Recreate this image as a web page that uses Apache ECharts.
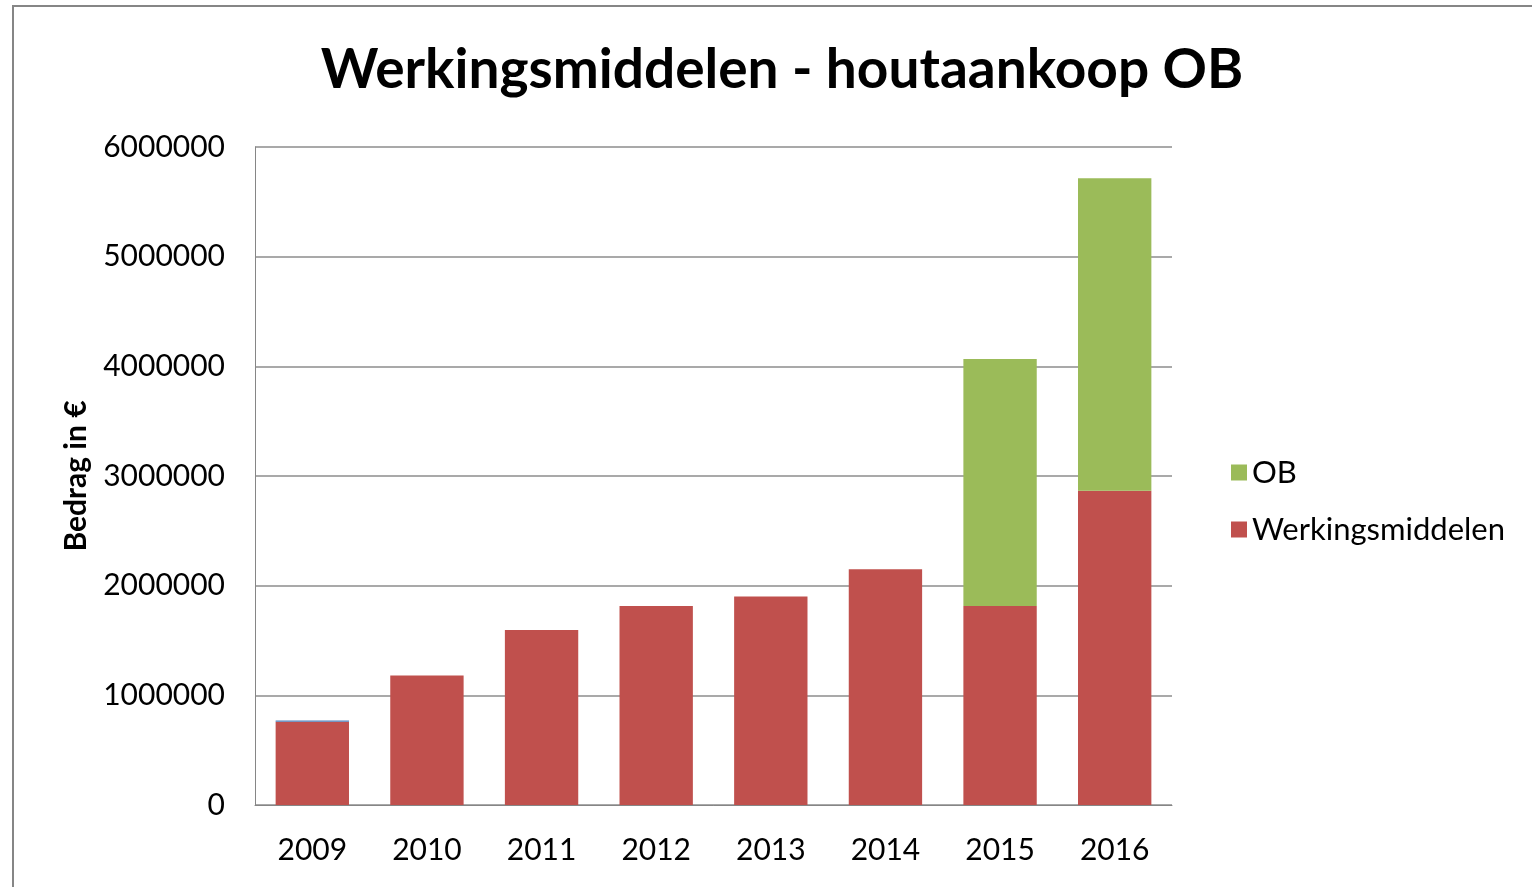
<!DOCTYPE html>
<html>
<head>
<meta charset="utf-8">
<script src="https://cdn.jsdelivr.net/npm/echarts@6/dist/echarts.min.js"></script>
<style>
  html, body { margin: 0; padding: 0; background: #fff; }
  #chart { width: 1532px; height: 887px; }
</style>
</head>
<body>
<div id="chart"></div>
<script>
// jaren en bedragen
const years = ['2009', '2010', '2011', '2012', '2013', '2014', '2015', '2016'];
const werkingsmiddelen = [760000, 1180000, 1595000, 1815000, 1902000, 2150000, 1814000, 2866000];
const ob = [0, 0, 0, 0, 0, 0, 2254000, 2849000];
const overig = [10000, 0, 0, 0, 0, 0, 0, 0];
const yTicks = [0, 1000000, 2000000, 3000000, 4000000, 5000000, 6000000];

const font = 'Lato, "Open Sans", sans-serif';

const chart = echarts.init(document.getElementById('chart'));
chart.setOption({
  animation: false,
  textStyle: { fontFamily: font },
  title: {
    text: 'Werkingsmiddelen - houtaankoop OB',
    left: 777, top: 38, textAlign: 'center',
    textStyle: { fontSize: 55, fontWeight: 'bold', color: '#000', fontFamily: font }
  },
  graphic: [{
    type: 'rect', silent: true,
    shape: { x: 13, y: 6, width: 1600, height: 1000 },
    style: { fill: 'none', stroke: '#868686', lineWidth: 2 }
  }],
  legend: {
    orient: 'vertical', left: 1226, top: 452,
    data: ['OB', 'Werkingsmiddelen'],
    icon: 'rect', itemWidth: 16, itemHeight: 16, itemGap: 26,
    textStyle: { fontSize: 31, color: '#000', fontFamily: font }
  },
  grid: { left: 255, right: 360, top: 147, bottom: 82 },
  xAxis: {
    type: 'category', data: years,
    axisLine: { lineStyle: { color: '#868686', width: 1 } },
    axisTick: { show: false },
    axisLabel: { fontSize: 30, color: '#000', margin: 30 }
  },
  yAxis: {
    type: 'value', min: yTicks[0], max: yTicks[yTicks.length - 1], interval: 1000000,
    name: 'Bedrag in €', nameLocation: 'middle', nameGap: 164, nameRotate: 90,
    nameTextStyle: { fontSize: 30, fontWeight: 'bold', color: '#000' },
    axisLine: { show: true, lineStyle: { color: '#868686', width: 1 } },
    axisTick: { show: false },
    axisLabel: { fontSize: 30, color: '#000', margin: 30, formatter: v => String(v) },
    splitLine: { lineStyle: { color: '#8c8c8c', width: 1.5 } }
  },
  series: [
    { name: 'Werkingsmiddelen', type: 'bar', stack: 'tot', data: werkingsmiddelen,
      barCategoryGap: '36%', itemStyle: { color: '#C0504D' } },
    { name: 'OB', type: 'bar', stack: 'tot', data: ob,
      itemStyle: { color: '#9BBB59' } },
    { name: 'overig', type: 'bar', stack: 'tot', data: overig,
      itemStyle: { color: '#4F81BD' } }
  ]
});
</script>
</body>
</html>
